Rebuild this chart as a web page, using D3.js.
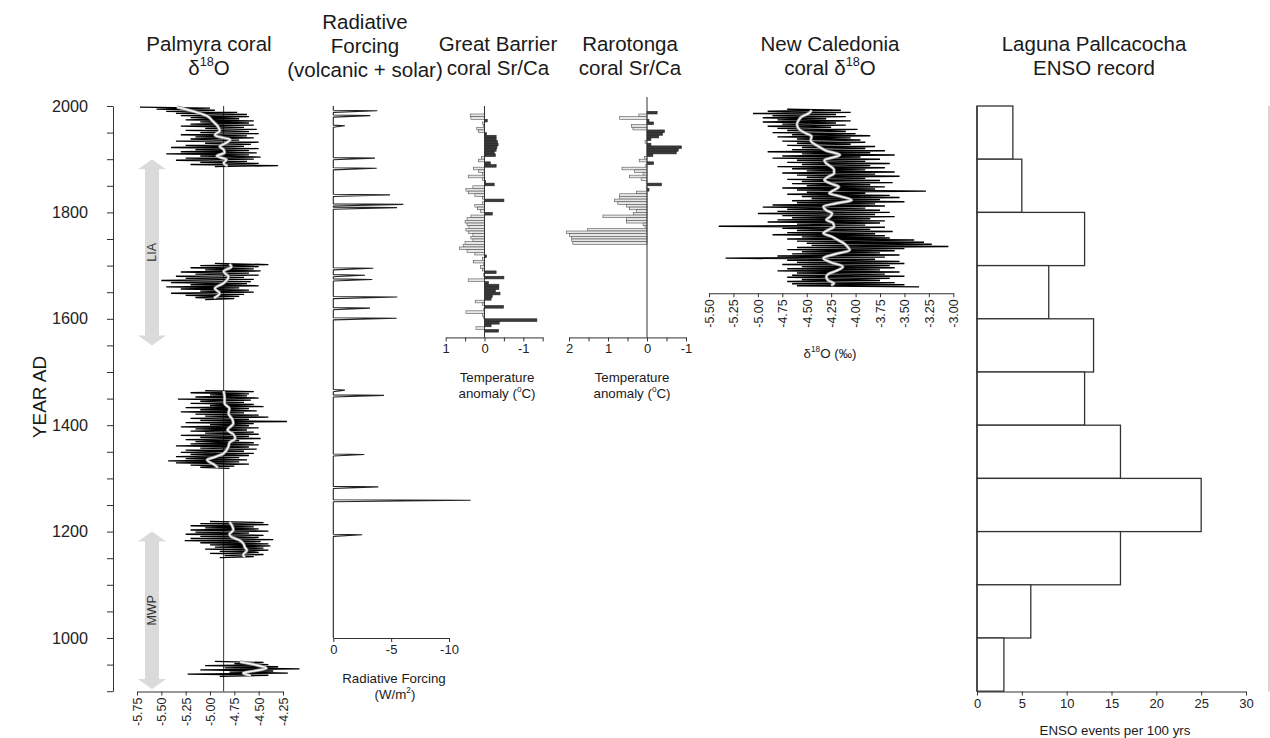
<!DOCTYPE html>
<html><head><meta charset="utf-8">
<script src="https://cdn.jsdelivr.net/npm/d3@7"></script>
<style>
body{margin:0;background:#fff;}
svg{display:block;}
</style></head><body><svg id="c" width="1270" height="738"></svg>
<script>
// ---------------- DATA ----------------
const yearTicks = [2000,1950,1900,1850,1800,1750,1700,1650,1600,1550,1500,1450,1400,1350,1300,1250,1200,1150,1100,1050,1000,950,900];
const yearLabels = [2000,1800,1600,1400,1200,1000];

// Palmyra coral d18O (raw, 2-yr steps from start year downward)
const palStep = 2;
const palStart = [1998, 1704, 1465, 1219, 956];
const palRawA = [-5.72,-5.0,-5.55,-4.95,-5.45,-4.72,-5.35,-4.62,-5.3,-4.6,
  -5.2,-4.7,-5.25,-4.55,-5.1,-4.6,-5.2,-4.55,-5.3,-4.65,
  -5.05,-4.52,-5.25,-4.6,-5.1,-4.5,-5.3,-4.62,-5.15,-4.55,
  -5.2,-4.7,-5.35,-4.5,-5.05,-4.58,-5.25,-4.65,-5.4,-4.5,
  -5.15,-4.6,-5.3,-4.52,-5.45,-4.6,-5.1,-4.48,-5.25,-4.55,
  -5.35,-4.62,-5.1,-4.5,-5.2,-4.3,-4.95];
const palRawB = [-4.95,-4.4,-5.1,-4.5,-5.2,-4.55,-5.05,-4.48,-5.3,-4.6,
  -5.15,-4.5,-5.35,-4.65,-5.25,-4.55,-5.5,-4.58,-5.4,-4.62,
  -5.2,-4.5,-5.45,-4.7,-5.3,-4.6,-5.1,-4.55,-5.4,-4.65,
  -5.25,-4.7,-5.15,-4.75,-5.05];
const palRawC = [-5.05,-4.55,-5.2,-4.6,-5.0,-4.62,-5.15,-4.5,-5.33,-4.58,
  -5.1,-4.65,-5.2,-4.55,-5.0,-4.45,-5.25,-4.6,-5.1,-4.52,
  -5.3,-4.65,-5.15,-4.5,-5.05,-4.4,-5.2,-4.6,-5.1,-4.21,
  -5.25,-4.55,-5.0,-4.6,-5.3,-4.5,-5.15,-4.62,-5.2,-4.55,
  -5.05,-4.5,-5.3,-4.6,-5.1,-4.48,-5.25,-4.7,-5.15,-4.55,
  -5.2,-4.5,-5.35,-4.6,-5.1,-4.52,-5.25,-4.65,-5.3,-4.55,
  -5.2,-4.6,-5.35,-4.7,-5.25,-4.62,-5.43,-4.7,-5.35,-4.6,
  -5.2,-4.75,-5.1,-4.8];
const palRawD = [-5.0,-4.45,-5.1,-4.4,-5.2,-4.55,-5.05,-4.5,-5.2,-4.4,
  -5.15,-4.6,-5.25,-4.45,-5.1,-4.5,-5.2,-4.35,-5.26,-4.48,
  -5.1,-4.4,-5.0,-4.38,-4.95,-4.45,-5.05,-4.4,-4.9,-4.5,
  -5.0,-4.45,-4.85,-4.55,-4.9];
const palRawE = [-4.95,-4.45,-4.75,-4.4,-5.05,-4.3,-4.85,-4.08,-5.1,-4.35,-4.8,-4.2,-5.23,-4.4,-4.9];
// Palmyra smoothed [year, value]
const palSmoothA = [[1998,-5.34],[1990,-5.17],[1981,-5.03],[1971,-4.97],[1962,-4.92],[1953,-4.9],[1946,-4.95],[1943,-4.93],[1937,-4.79],[1930,-4.84],[1924,-4.9],[1918,-4.86],[1912,-4.85],[1906,-4.93],[1899,-4.83],[1893,-4.86],[1887,-4.82]];
const palSmoothB = [[1703,-4.8],[1698,-4.78],[1689,-4.86],[1679,-4.81],[1667,-4.86],[1657,-4.95],[1648,-4.9],[1639,-4.96]];
const palSmoothC = [[1464,-4.86],[1452,-4.85],[1441,-4.85],[1431,-4.8],[1422,-4.81],[1411,-4.77],[1403,-4.76],[1391,-4.82],[1383,-4.76],[1375,-4.74],[1367,-4.8],[1360,-4.81],[1347,-4.86],[1340,-4.95],[1335,-5.03],[1325,-4.95],[1320,-4.92]];
const palSmoothD = [[1218,-4.8],[1210,-4.77],[1203,-4.76],[1195,-4.8],[1190,-4.78],[1184,-4.7],[1178,-4.66],[1170,-4.64],[1165,-4.62],[1156,-4.66],[1152,-4.64]];
const palSmoothE = [[955,-4.69],[949,-4.52],[943,-4.42],[938,-4.55],[934,-4.66],[929,-4.58]];
const palMean = -4.86;
const palTicks = [-5.75,-5.5,-5.25,-5,-4.75,-4.5,-4.25];
const liaYears = [1900, 1550];
const mwpYears = [1200, 904];

// Radiative forcing: volcanic events
const volcYears   = [1991,1982,1963,1902,1883,1833,1815,1809,1695,1682,1674,1641,1620,1601,1466,1456,1345,1284,1259,1194];
const volcForcing = [-3.8,-3.2,-1.0,-3.6,-3.75,-4.9,-6.05,-5.5,-3.46,-2.74,-3.37,-5.53,-3.17,-5.48,-1.0,-4.38,-2.68,-3.89,-11.87,-2.5];
const rfTicks = [0,-5,-10];

// Great Barrier coral Sr/Ca temperature anomaly (5-yr bins, start year)
const gbYears = [1980,1975,1970,1965,1960,1955,1950,1945,1940,1935,1930,1925,1920,1915,1910,1905,1900,1895,1890,1885,
  1880,1875,1870,1865,1860,1855,1850,1845,1840,1835,1830,1825,1820,1815,1810,1805,1800,1795,1790,1785,
  1780,1775,1770,1765,1760,1755,1750,1745,1740,1735,1730,1725,1720,1715,1710,1705,1700,1695,1690,1685,
  1680,1675,1670,1665,1660,1655,1650,1645,1640,1635,1630,1625,1620,1615,1610,1605,1600,1595,1590,1585,1580,1575];
const gbAnom = [0.37,0.35,-0.07,0.05,0.02,0.20,0.15,-0.05,-0.30,-0.30,-0.33,-0.35,-0.32,-0.30,-0.25,-0.28,0.08,0.15,-0.15,-0.30,
  0.28,0.15,0.05,0.42,0.05,-0.03,-0.25,0.30,0.48,0.42,0.25,0.05,-0.50,0.05,0.25,0.18,0.10,-0.20,0.35,0.45,
  0.50,0.45,0.40,0.48,0.42,0.30,0.35,0.30,0.50,0.55,0.65,0.45,0.25,-0.05,0.05,0.28,0.03,0.10,0.05,-0.30,
  0.02,-0.50,0.42,-0.10,-0.37,-0.37,-0.28,-0.40,-0.20,-0.17,0.24,0.05,-0.49,0.02,0.48,0.05,0.02,-1.35,-0.38,-0.17,0.22,-0.36];
const gbTicks = [1,0.5,0,-0.5,-1,-1.5];

// Rarotonga coral Sr/Ca temperature anomaly
const rarYears = [1985,1980,1975,1970,1965,1960,1955,1950,1945,1940,1935,1930,1925,1920,1915,1910,1905,1900,1895,1890,
  1885,1880,1875,1870,1865,1860,1855,1850,1845,1840,1835,1830,1825,1820,1815,1810,1805,1800,1795,1790,
  1785,1780,1775,1770,1765,1760,1755,1750,1745,1740];
const rarAnom = [-0.26,0.21,0.70,-0.05,-0.17,0.40,0.36,-0.45,-0.40,-0.30,-0.10,0.05,-0.10,-0.88,-0.80,-0.75,-0.15,0.06,0.20,-0.17,
  0.03,0.64,0.32,0.10,0.45,0.15,0.02,-0.37,0.02,-0.05,0.27,0.70,0.70,0.83,0.75,0.53,0.45,0.27,0.35,1.13,
  0.53,0.53,0.10,0.05,1.52,2.07,1.99,1.93,1.93,1.90];
const rarTicks = [2,1.5,1,0.5,0,-0.5,-1];

// New Caledonia coral d18O (raw, 2-yr steps from 1994)
const ncStart = 1994, ncStep = 2;
const ncRaw = [-4.7,-4.15,-4.9,-4.05,-5.05,-4.2,-4.85,-4.1,-4.95,-4.3,
  -4.8,-4.05,-4.95,-4.2,-4.75,-4.1,-4.9,-4.25,-4.8,-3.98,
  -4.7,-4.1,-4.85,-4.0,-4.65,-3.85,-4.8,-4.05,-4.6,-3.95,
  -4.75,-3.9,-4.6,-4.05,-4.7,-3.8,-4.55,-3.9,-4.65,-3.7,
  -4.9,-3.85,-4.55,-3.6,-4.75,-3.95,-4.85,-3.75,-4.6,-3.9,
  -4.7,-3.65,-4.55,-3.85,-4.8,-3.7,-4.65,-3.9,-4.5,-3.6,
  -4.75,-3.8,-4.6,-3.55,-4.5,-3.9,-4.7,-3.75,-4.55,-3.62,
  -4.65,-3.85,-4.5,-3.7,-4.75,-3.8,-4.6,-3.28,-4.5,-3.9,
  -4.7,-3.65,-4.55,-3.55,-4.45,-3.75,-4.65,-3.5,-4.6,-3.8,
  -4.85,-3.7,-4.95,-3.9,-4.7,-3.75,-4.8,-3.65,-5.0,-3.8,
  -4.75,-3.6,-4.65,-3.85,-4.8,-3.7,-4.9,-3.75,-4.6,-3.9,
  -5.4,-3.7,-4.75,-3.85,-4.6,-3.62,-4.7,-3.8,-4.85,-3.7,
  -4.55,-3.65,-4.7,-3.4,-4.6,-3.3,-4.5,-3.22,-4.45,-3.05,
  -4.6,-3.5,-4.7,-3.6,-4.55,-3.75,-4.65,-3.55,-4.8,-3.7,
  -5.33,-3.8,-4.7,-3.55,-4.6,-3.5,-4.75,-3.65,-4.55,-3.6,
  -4.7,-3.75,-4.8,-3.55,-4.6,-3.7,-4.65,-3.5,-4.7,-3.65,
  -4.55,-3.75,-4.7,-3.6,-4.65,-3.5,-4.6,-3.35];
const ncSmooth = [[1992,-4.45],[1986,-4.48],[1980,-4.55],[1974,-4.58],[1965,-4.6],[1955,-4.57],[1948,-4.5],[1943,-4.45],[1935,-4.46],[1924,-4.38],[1916,-4.3],[1908,-4.16],[1898,-4.32],[1892,-4.3],[1886,-4.25],[1880,-4.22],[1873,-4.22],[1867,-4.28],[1861,-4.32],[1854,-4.25],[1848,-4.17],[1842,-4.22],[1836,-4.27],[1830,-4.15],[1823,-4.04],[1817,-4.2],[1811,-4.33],[1804,-4.3],[1798,-4.24],[1792,-4.26],[1786,-4.3],[1780,-4.23],[1773,-4.22],[1767,-4.28],[1761,-4.33],[1755,-4.25],[1748,-4.18],[1742,-4.12],[1735,-4.08],[1729,-4.06],[1722,-4.2],[1714,-4.33],[1706,-4.25],[1698,-4.13],[1690,-4.2],[1684,-4.28],[1679,-4.3],[1672,-4.28],[1667,-4.22],[1663,-4.25]];
const ncTicks = [-5.5,-5.25,-5,-4.75,-4.5,-4.25,-4,-3.75,-3.5,-3.25,-3];

// Laguna Pallcacocha ENSO events per 100 yrs
const lagStart  = [1900,1800,1700,1600,1500,1400,1300,1200,1100,1000,900];
const lagCounts = [4,5,12,8,13,12,16,25,16,6,3];
const lagTicks = [0,5,10,15,20,25,30];

// ---------------- DRAWING ----------------
const FONT = '"Liberation Sans", Arial, Helvetica, sans-serif';
const INK = "#1a1a1a", AX = "#333";
const svg = d3.select("#c").attr("font-family", FONT);
svg.append("rect").attr("width",1270).attr("height",738).attr("fill","#fff");

const yYear = d3.scaleLinear().domain([2000, 900]).range([106, 691.2]);
const axisY = 691.5;

function rich(x, y, parts, size, rotate) {
  const t = svg.append("text").attr("x", x).attr("y", y).attr("font-size", size)
    .attr("text-anchor", "middle").attr("fill", INK);
  if (rotate) t.attr("transform", `rotate(-90,${x},${y})`);
  let raised = false;
  parts.forEach(p => {
    const sup = p.startsWith("^");
    const s = t.append("tspan").text(sup ? p.slice(1) : p);
    if (sup) { s.attr("dy", -0.42*size).attr("font-size", size*0.62); raised = true; }
    else if (raised) { s.attr("dy", 0.42*size); raised = false; }
  });
  return t;
}
function styleAxis(g, size) {
  g.attr("font-family", FONT).attr("font-size", size);
  g.selectAll(".domain, .tick line").attr("stroke", AX).attr("stroke-width", 1);
  g.selectAll("text").attr("fill", "#222");
}
function rotLabels(g) {
  g.selectAll(".tick text").attr("transform","rotate(-90)").attr("x",-6).attr("y",0)
    .attr("dy","0.35em").attr("text-anchor","end");
}

// Titles
const T = 20.5;
rich(209, 51, ["Palmyra coral"], T); rich(209, 75, ["δ","^18","O"], T);
rich(365, 29, ["Radiative"], T); rich(365, 53, ["Forcing"], T); rich(365, 77, ["(volcanic + solar)"], T);
rich(498, 51, ["Great Barrier"], T); rich(498, 75, ["coral Sr/Ca"], T);
rich(630, 51, ["Rarotonga"], T); rich(630, 75, ["coral Sr/Ca"], T);
rich(830, 51, ["New Caledonia"], T); rich(830, 75, ["coral δ","^18","O"], T);
rich(1094, 51, ["Laguna Pallcacocha"], T); rich(1094, 75, ["ENSO record"], T);

// Left year axis
const gy = svg.append("g").attr("transform","translate(113,0)")
  .call(d3.axisLeft(yYear).tickValues(yearTicks).tickSize(6).tickSizeOuter(0).tickPadding(19)
    .tickFormat(d => yearLabels.includes(d) ? d : ""));
styleAxis(gy, 16.2);
rich(46, 397, ["YEAR AD"], 19, true);

// ---- Palmyra ----
const xPal = d3.scaleLinear().domain([-5.75, -4.25]).range([137, 283]);
function arrow(years, label, cx) {
  const y0 = yYear(years[0]), y1 = yYear(years[1]);
  const sw = 7, hw = 14, hl = 10;
  const p = d3.path();
  p.moveTo(cx, y0); p.lineTo(cx+hw, y0+hl); p.lineTo(cx+sw, y0+hl); p.lineTo(cx+sw, y1-hl);
  p.lineTo(cx+hw, y1-hl); p.lineTo(cx, y1); p.lineTo(cx-hw, y1-hl); p.lineTo(cx-sw, y1-hl);
  p.lineTo(cx-sw, y0+hl); p.lineTo(cx-hw, y0+hl); p.closePath();
  svg.append("path").attr("d", p.toString()).attr("fill", "#dadada");
  const ym = (y0+y1)/2;
  svg.append("text").attr("x", cx).attr("y", ym).attr("transform", `rotate(-90,${cx},${ym})`)
    .attr("text-anchor","middle").attr("dy","0.35em").attr("font-size",12.5).attr("fill","#333").text(label);
}
arrow(liaYears, "LIA", 152);
arrow(mwpYears, "MWP", 152);

svg.append("line").attr("x1", xPal(palMean)).attr("x2", xPal(palMean))
  .attr("y1", yYear(2000)).attr("y2", axisY).attr("stroke", AX).attr("stroke-width", 1);

const rawLine = (xs) => d3.line().x(d => xs(d[1])).y(d => yYear(d[0]));
function rawSeries(start, step, vals) { return vals.map((v, i) => [start - i*step, v]); }
function drawRaw(pts, xs, w) {
  svg.append("path").attr("d", rawLine(xs)(pts)).attr("fill","none")
    .attr("stroke","#000").attr("stroke-width",w).attr("stroke-linejoin","bevel");
}
function drawSmooth(pts, xs) {
  const l = d3.line().x(d => xs(d[1])).y(d => yYear(d[0])).curve(d3.curveMonotoneY);
  svg.append("path").attr("d", l(pts)).attr("fill","none").attr("stroke","#8a8a8a").attr("stroke-width",3.2);
  svg.append("path").attr("d", l(pts)).attr("fill","none").attr("stroke","#f2f2f2").attr("stroke-width",1.7);
}
[palRawA, palRawB, palRawC, palRawD, palRawE].forEach((arr, i) => drawRaw(rawSeries(palStart[i], palStep, arr), xPal, 1.3));
[palSmoothA, palSmoothB, palSmoothC, palSmoothD, palSmoothE].forEach(s => drawSmooth(s, xPal));

const gpx = svg.append("g").attr("transform", `translate(0,${axisY})`)
  .call(d3.axisBottom(xPal).tickValues(palTicks).tickSize(4).tickSizeOuter(0).tickFormat(d => d.toFixed(2)));
styleAxis(gpx, 12.5); rotLabels(gpx);

// ---- Radiative forcing ----
const xRF = d3.scaleLinear().domain([0, -10]).range([333.3, 449]);
const rfPts = [[2000, 0]];
volcYears.forEach((yr, i) => { rfPts.push([yr+1, 0], [yr, volcForcing[i]], [yr-3, 0]); });
rfPts.push([1000, 0]);
svg.append("path").attr("d", d3.line().x(d => xRF(d[1])).y(d => yYear(d[0]))(rfPts))
  .attr("fill","none").attr("stroke","#222").attr("stroke-width",1.1).attr("stroke-linejoin","bevel");
const rfAxisY = yYear(1000);
const grf = svg.append("g").attr("transform", `translate(0,${rfAxisY})`)
  .call(d3.axisBottom(xRF).tickValues(rfTicks).tickSize(4).tickSizeOuter(0).tickPadding(3).tickFormat(d => String(d)));
styleAxis(grf, 13);
rich(394, 683, ["Radiative Forcing"], 13.3);
rich(395, 699, ["(W/m","^2",")"], 13.3);

// ---- Bar panels (GB, Rarotonga) ----
const barAxisY = yYear(1565);
function barPanel(xs, years, vals, ticks, topY, cx) {
  years.forEach((yr, i) => {
    const v = vals[i];
    const y0 = yYear(yr + 5), y1 = yYear(yr);
    svg.append("rect").attr("x", Math.min(xs(0), xs(v))).attr("width", Math.abs(xs(v) - xs(0)))
      .attr("y", y0).attr("height", y1 - y0)
      .attr("fill", v >= 0 ? "#e6e6e6" : "#3a3a3a").attr("stroke", v >= 0 ? "#555" : "#222").attr("stroke-width", 0.6);
  });
  svg.append("line").attr("x1", xs(0)).attr("x2", xs(0)).attr("y1", topY).attr("y2", barAxisY)
    .attr("stroke", AX).attr("stroke-width", 1);
  const g = svg.append("g").attr("transform", `translate(0,${barAxisY})`)
    .call(d3.axisBottom(xs).tickValues(ticks).tickSize(4).tickSizeOuter(0).tickPadding(2)
      .tickFormat(d => Number.isInteger(d) ? String(d) : ""));
  styleAxis(g, 13);
  rich(cx, 382, ["Temperature"], 13.3);
  rich(cx, 398, ["anomaly (","^o","C)"], 13.3);
}
const xGB = d3.scaleLinear().domain([1, -1.5]).range([445.7, 542.7]);
barPanel(xGB, gbYears, gbAnom, gbTicks, yYear(2000), 497);
const xRar = d3.scaleLinear().domain([2, -1]).range([569, 686]);
barPanel(xRar, rarYears, rarAnom, rarTicks, 97, 632);

// ---- New Caledonia ----
const xNC = d3.scaleLinear().domain([-5.5, -3]).range([709, 953.3]);
drawRaw(rawSeries(ncStart, ncStep, ncRaw), xNC, 1.4);
drawSmooth(ncSmooth, xNC);
const ncAxisY = yYear(1648);
const gnc = svg.append("g").attr("transform", `translate(0,${ncAxisY})`)
  .call(d3.axisBottom(xNC).tickValues(ncTicks).tickSize(4).tickSizeOuter(0).tickFormat(d => d.toFixed(2)));
styleAxis(gnc, 12.5); rotLabels(gnc);
rich(830, 358, ["δ","^18","O (‰)"], 13.3);

// ---- Laguna Pallcacocha ----
const xLag = d3.scaleLinear().domain([0, 30]).range([977, 1246]);
lagStart.forEach((s, i) => {
  svg.append("rect").attr("x", xLag(0)).attr("width", xLag(lagCounts[i]) - xLag(0))
    .attr("y", yYear(s + 100)).attr("height", yYear(s) - yYear(s + 100))
    .attr("fill", "#fff").attr("stroke", "#333").attr("stroke-width", 1.3);
});
svg.append("line").attr("x1", xLag(0)).attr("x2", xLag(0)).attr("y1", yYear(2000)).attr("y2", axisY)
  .attr("stroke", AX).attr("stroke-width", 1.3);
svg.append("line").attr("x1", 1269).attr("x2", 1269).attr("y1", yYear(2000)).attr("y2", axisY)
  .attr("stroke", "#aaa").attr("stroke-width", 1);
const glag = svg.append("g").attr("transform", `translate(0,${axisY})`)
  .call(d3.axisBottom(xLag).tickValues(lagTicks).tickSize(4).tickSizeOuter(0).tickPadding(3));
styleAxis(glag, 13);
rich(1115, 735, ["ENSO events per 100 yrs"], 13.3);
</script></body></html>
